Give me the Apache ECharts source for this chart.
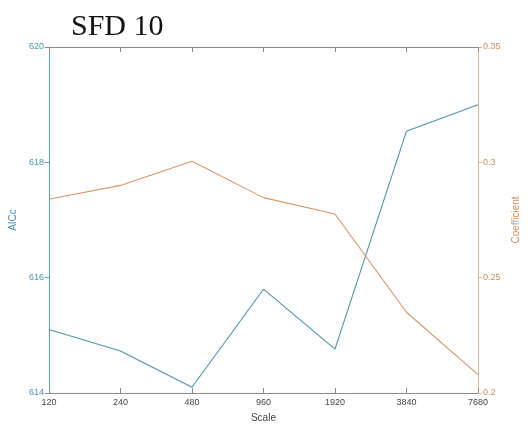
<!DOCTYPE html>
<html>
<head>
<meta charset="utf-8">
<script src="https://cdn.jsdelivr.net/npm/echarts@6/dist/echarts.min.js"></script>
<style>html,body{margin:0;padding:0;background:#fff;}#c{width:530px;height:428px;}</style>
</head>
<body>
<div id="c"></div>
<script>
const categories = ['120', '240', '480', '960', '1920', '3840', '7680'];
const aicc = [615.10, 614.73, 614.10, 615.80, 614.76, 618.54, 619.00];
const coefficient = [0.284, 0.290, 0.3005, 0.2847, 0.2776, 0.235, 0.208];

const blue = '#4d93aa';
const orange = '#d4966c';
const chart = echarts.init(document.getElementById('c'));
chart.setOption({
  animation: false,
  backgroundColor: '#fff',
  title: {
    text: 'SFD 10', left: 66, top: 7,
    textStyle: { fontFamily: 'Liberation Serif', fontSize: 30, fontWeight: 'normal', color: '#111' }
  },
  grid: { left: 48, right: 52, top: 47, bottom: 33 },
  xAxis: [{
    type: 'category', data: categories, boundaryGap: false,
    name: 'Scale', nameLocation: 'middle', nameGap: 20,
    nameTextStyle: { fontFamily: 'Liberation Sans', fontSize: 10, color: '#444' },
    axisLine: { lineStyle: { color: '#8a8a8a', width: 1 } },
    axisTick: { inside: true, length: 5, lineStyle: { color: '#8a8a8a' } },
    axisLabel: { fontFamily: 'Liberation Sans', fontSize: 9, color: '#444', margin: 5 },
    splitLine: { show: false }
  }, {
    type: 'category', data: categories, boundaryGap: false, position: 'top',
    axisLine: { lineStyle: { color: '#8a8a8a', width: 1 } },
    axisTick: { inside: true, length: 5, lineStyle: { color: '#8a8a8a' } },
    axisLabel: { show: false }, splitLine: { show: false }
  }],
  yAxis: [{
    type: 'value', min: 614, max: 620, interval: 2, position: 'left',
    name: 'AICc', nameLocation: 'middle', nameGap: 27,
    nameTextStyle: { fontFamily: 'Liberation Sans', fontSize: 10, color: blue },
    axisLine: { show: true, lineStyle: { color: '#5d9db2', width: 1 } },
    axisTick: { show: true, inside: false, length: 4, lineStyle: { color: '#5d9db2' } },
    axisLabel: { fontFamily: 'Liberation Sans', fontSize: 9, color: blue, margin: 5 },
    splitLine: { show: false }
  }, {
    type: 'value', min: 0.2, max: 0.35, interval: 0.05, position: 'right',
    name: 'Coefficient', nameLocation: 'middle', nameGap: 32,
    nameTextStyle: { fontFamily: 'Liberation Sans', fontSize: 10, color: '#c98e5e' },
    axisLine: { show: true, lineStyle: { color: '#dcb898', width: 1 } },
    axisTick: { show: true, inside: false, length: 4, lineStyle: { color: '#dcb898' } },
    axisLabel: { fontFamily: 'Liberation Sans', fontSize: 9, color: '#c98e5e', margin: 5,
      formatter: v => String(Math.round(v * 100) / 100) },
    splitLine: { show: false }
  }],
  series: [{
    type: 'line', name: 'AICc', data: aicc, yAxisIndex: 0, xAxisIndex: 0,
    symbol: 'none', lineStyle: { color: blue, width: 1.1 }
  }, {
    type: 'line', name: 'Coefficient', data: coefficient, yAxisIndex: 1, xAxisIndex: 0,
    symbol: 'none', lineStyle: { color: orange, width: 1.1 }
  }]
});
</script>
</body>
</html>
